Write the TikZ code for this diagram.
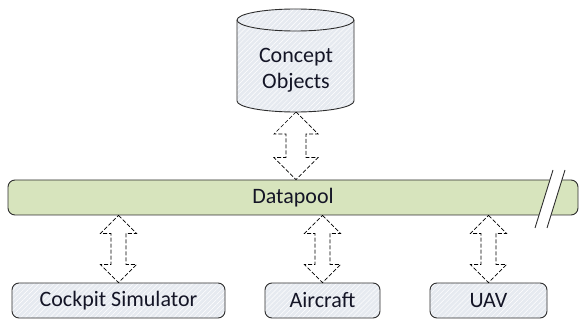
\documentclass[tikz,border=0pt]{standalone}
\usepackage{fontspec}
\setmainfont{Carlito}
\usetikzlibrary{calc,patterns.meta}
\definecolor{busgreen}{HTML}{D7E4BD}
\definecolor{boxfill}{HTML}{E6EAF0}
\definecolor{edge}{HTML}{2E2E2E}
\definecolor{txt}{HTML}{141526}
\tikzset{
  hatched/.style={preaction={fill=boxfill}, pattern={Lines[angle=45,distance=3.5pt,line width=0.45pt]}, pattern color=white},
  lbl/.style={text=txt, font=\fontsize{22}{26}\selectfont},
  endbox/.style={draw=edge, line width=0.9pt, rounded corners=7pt, hatched, minimum height=35pt, inner sep=0pt, lbl},
  busbox/.style={draw=edge, line width=0.9pt, rounded corners=7pt, fill=busgreen, minimum height=35pt, minimum width=570pt, inner sep=0pt, lbl},
  barrow/.style={draw=black, line width=0.7pt, dash pattern=on 4pt off 2pt, fill=white},
  breakline/.style={draw=edge, line width=0.9pt},
}
\newcommand\blockarrow[5]{%
  \path[barrow] let \p1=(#1), \p2=(#2) in
    (\x1,\y1) -- (\x1+#3,\y1-#5) -- (\x1+#4,\y1-#5) -- (\x1+#4,\y2+#5) -- (\x1+#3,\y2+#5)
    -- (\x1,\y2) -- (\x1-#3,\y2+#5) -- (\x1-#4,\y2+#5) -- (\x1-#4,\y1-#5) -- (\x1-#3,\y1-#5) -- cycle;}
\begin{document}
\begin{tikzpicture}[x=1pt,y=1pt]
\useasboundingbox (0,0) rectangle (581,-323);
% cylinder
\path[draw=edge, line width=0.9pt, hatched]
  (237,-20) -- (237,-101) arc[start angle=180, end angle=360, x radius=58.5, y radius=11]
  -- (354,-20) arc[start angle=0, end angle=180, x radius=58.5, y radius=11] -- cycle;
\draw[edge, line width=0.9pt] (237,-20) arc[start angle=180, end angle=360, x radius=58.5, y radius=11];
\node[lbl, align=center] (concept) at (296,-70) {Concept\\Objects};
\coordinate (cylbot) at (296,-112);
% datapool bus
\node[busbox] (bus) at (293,-197.5) {Datapool};
% break in the bus
\fill[white] (550.2,-178.5) -- (562.2,-178.5) -- (550.7,-216.5) -- (538.7,-216.5) -- cycle;
\coordinate (b1t) at (553,-170); \coordinate (b1b) at (535,-228);
\coordinate (b2t) at (565,-170); \coordinate (b2b) at (547,-228);
\draw[breakline] (b1t) -- (b1b);
\draw[breakline] (b2t) -- (b2b);
% end boxes
\node[endbox, minimum width=213pt] (cockpit) at (118.5,-300.5) {Cockpit Simulator};
\node[endbox, minimum width=115pt] (aircraft) at (322.5,-300.5) {Aircraft};
\node[endbox, minimum width=117pt] (uav) at (488.5,-300.5) {UAV};
% connectors
\blockarrow{cylbot}{cylbot |- bus.north}{22pt}{10pt}{22pt}
\blockarrow{cockpit.north |- bus.south}{cockpit.north}{18pt}{7.5pt}{18pt}
\blockarrow{aircraft.north |- bus.south}{aircraft.north}{18pt}{7.5pt}{18pt}
\blockarrow{uav.north |- bus.south}{uav.north}{18pt}{7.5pt}{18pt}
\end{tikzpicture}
\end{document}
